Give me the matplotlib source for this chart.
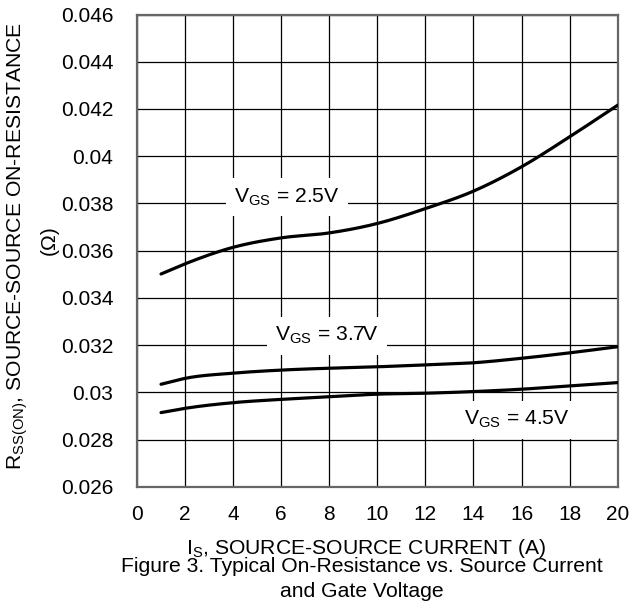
import matplotlib
matplotlib.use('Agg')
import matplotlib.pyplot as plt
import numpy as np

plt.rcParams['font.family'] = ['Liberation Sans', 'DejaVu Sans']
plt.rcParams['mathtext.default'] = 'regular'

# On-resistance curves, read at each 2 A step (first point at 1 A)
current = [1, 2, 4, 6, 8, 10, 12, 14, 16, 18, 20]
r_vgs_25 = [0.03501, 0.03544, 0.03614, 0.03654, 0.03675, 0.03715, 0.03778, 0.03852, 0.03955, 0.04082, 0.04216]
r_vgs_37 = [0.03034, 0.03059, 0.03081, 0.03094, 0.03102, 0.03108, 0.03116, 0.03125, 0.03144, 0.03167, 0.03193]
r_vgs_45 = [0.02914, 0.02932, 0.02956, 0.02970, 0.02981, 0.02992, 0.02996, 0.03003, 0.03013, 0.03027, 0.03041]

x_ticks = [0, 2, 4, 6, 8, 10, 12, 14, 16, 18, 20]
y_ticks = [0.026, 0.028, 0.03, 0.032, 0.034, 0.036, 0.038, 0.04, 0.042, 0.044, 0.046]
y_tick_labels = ['0.026', '0.028', '0.03', '0.032', '0.034', '0.036', '0.038', '0.04', '0.042', '0.044', '0.046']

curve_labels = ['$V_{GS}$ = 2.5V', '$V_{GS}$ = 3.7V', '$V_{GS}$ = 4.5V']
label_pos = [(6.25, 0.03826), (7.9, 0.03240), (15.8, 0.02884)]


def smooth(x, y, n=200):
    # cubic hermite through the read points
    xs = np.linspace(x[0], x[-1], n)
    x = np.asarray(x, float)
    y = np.asarray(y, float)
    h = np.diff(x)
    d = np.diff(y) / h
    m = np.empty_like(y)
    m[0], m[-1] = d[0], d[-1]
    m[1:-1] = (d[:-1] * h[1:] + d[1:] * h[:-1]) / (h[:-1] + h[1:])
    idx = np.clip(np.searchsorted(x, xs) - 1, 0, len(h) - 1)
    t = (xs - x[idx]) / h[idx]
    h00 = 2 * t**3 - 3 * t**2 + 1
    h10 = t**3 - 2 * t**2 + t
    h01 = -2 * t**3 + 3 * t**2
    h11 = t**3 - t**2
    ys = h00 * y[idx] + h10 * h[idx] * m[idx] + h01 * y[idx + 1] + h11 * h[idx] * m[idx + 1]
    return xs, ys


fig = plt.figure(figsize=(6.29, 6.05), dpi=100)
ax = fig.add_axes([0.2178, 0.1955, 0.7642, 0.7805])

for series in (r_vgs_25, r_vgs_37, r_vgs_45):
    xs, ys = smooth(current, series)
    ax.plot(xs, ys, color='black', linewidth=2.3, solid_capstyle='round', zorder=3)

ax.set_xlim(0, 20)
ax.set_ylim(0.026, 0.046)
ax.set_xticks(x_ticks)
ax.set_yticks(y_ticks)
ax.set_yticklabels(y_tick_labels)
ax.grid(True, color='black', linewidth=0.9)
ax.tick_params(length=0, labelsize=15)
ax.tick_params(axis='y', pad=17)
ax.tick_params(axis='x', pad=13)
for s in ax.spines.values():
    s.set_color('#666666')
    s.set_linewidth(1.6)

for text, (x, y) in zip(curve_labels, label_pos):
    ax.text(x, y, text, fontsize=15.2, ha='center', va='center', zorder=4,
            bbox=dict(facecolor='white', edgecolor='none', pad=6))

fig.text(0.582, 0.094, '$I_S$, SOURCE-SOURCE CURRENT (A)', fontsize=15.2, ha='center', va='center')
fig.text(0.576, 0.063, 'Figure 3. Typical On-Resistance vs. Source Current', fontsize=15.2, ha='center', va='center')
fig.text(0.576, 0.022, 'and Gate Voltage', fontsize=15.2, ha='center', va='center')

fig.text(0.029, 0.593, '$R_{SS(ON)}$, SOURCE-SOURCE ON-RESISTANCE', fontsize=15.2,
         rotation=90, ha='center', va='center')
fig.text(0.078, 0.603, '(Ω)', fontsize=15.2, rotation=90, ha='center', va='center')

fig.savefig('out.png', dpi=100)
